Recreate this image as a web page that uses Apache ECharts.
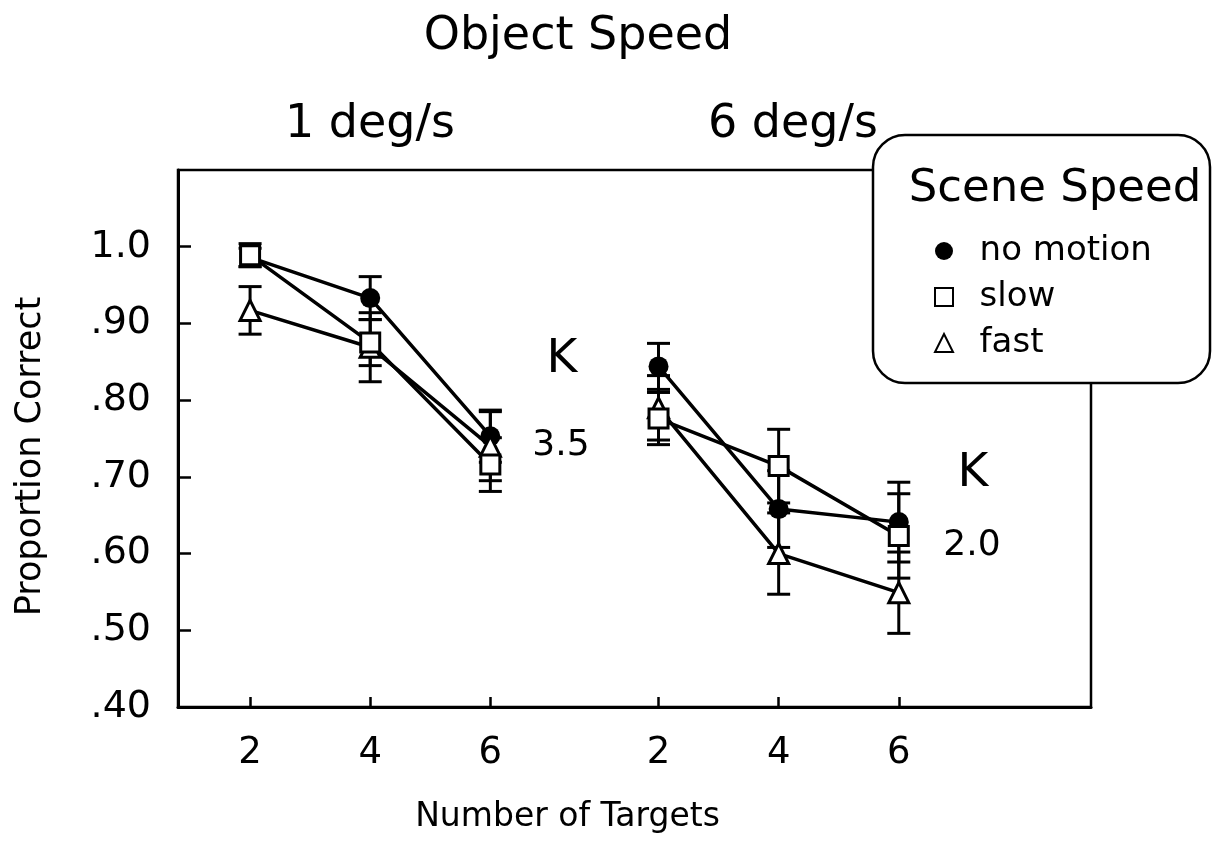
<!DOCTYPE html>
<html>
<head>
<meta charset="utf-8">
<script src="https://cdn.jsdelivr.net/npm/echarts@6/dist/echarts.min.js"></script>
<style>html,body{margin:0;padding:0;background:#fff}#c{width:1219px;height:846px}</style>
</head>
<body>
<div id="c"></div>
<script>
// ---- data ----
const targets = [2, 4, 6];
const groupOffsets = [0, 6.8];          // left: 1 deg/s, right: 6 deg/s
const xTickPos = [2, 4, 6, 8.8, 10.8, 12.8];
const xTickLabels = ['2', '4', '6', '2', '4', '6'];
const yTicks = [0.4, 0.5, 0.6, 0.7, 0.8, 0.9, 1.0];
const yTickLabels = ['.40', '.50', '.60', '.70', '.80', '.90', '1.0'];
const seriesNames = ['no motion', 'slow', 'fast'];

// 1 deg/s
const noMotion1 = [0.986, 0.933, 0.753];
const noMotion1Err = [0.012, 0.028, 0.034];
const slow1 = [0.989, 0.875, 0.716];
const slow1Err = [0.015, 0.030, 0.035];
const fast1 = [0.917, 0.869, 0.740];
const fast1Err = [0.031, 0.045, 0.045];
// 6 deg/s
const noMotion6 = [0.844, 0.658, 0.641];
const noMotion6Err = [0.030, 0.050, 0.052];
const slow6 = [0.776, 0.714, 0.623];
const slow6Err = [0.034, 0.048, 0.055];
const fast6 = [0.790, 0.600, 0.549];
const fast6Err = [0.042, 0.053, 0.053];

const FONT = 'DejaVu Sans';
const chart = echarts.init(document.getElementById('c'));

function pts(vals, g) { return vals.map((v, i) => [targets[i] + groupOffsets[g], v]); }
function errPts(vals, errs, g) {
  return vals.map((v, i) => [targets[i] + groupOffsets[g], v, v - errs[i], v + errs[i]]);
}

const symStyle = {
  'no motion': { symbol: 'circle', symbolSize: 20, itemStyle: { color: '#000', borderColor: '#000', borderWidth: 0 } },
  'slow': { symbol: 'rect', symbolSize: 19, itemStyle: { color: '#fff', borderColor: '#000', borderWidth: 3 } },
  'fast': { symbol: 'triangle', symbolSize: 20, itemStyle: { color: '#fff', borderColor: '#000', borderWidth: 3 } }
};

function lineSeries(name, vals, g, z) {
  return Object.assign({
    type: 'line', name: name, data: pts(vals, g), z: z,
    lineStyle: { color: '#000', width: 3.5 }, animation: false, silent: true
  }, symStyle[name]);
}

function errSeries(vals, errs, g) {
  return {
    type: 'custom', data: errPts(vals, errs, g), encode: { x: 0, y: 1 }, z: 1, silent: true, animation: false,
    renderItem: function (params, api) {
      const x = api.value(0);
      const lo = api.coord([x, api.value(2)]);
      const hi = api.coord([x, api.value(3)]);
      const h = 11.5;
      const st = { stroke: '#000', lineWidth: 3 };
      return {
        type: 'group', children: [
          { type: 'line', shape: { x1: lo[0], y1: lo[1], x2: hi[0], y2: hi[1] }, style: st },
          { type: 'line', shape: { x1: lo[0] - h, y1: lo[1], x2: lo[0] + h, y2: lo[1] }, style: st },
          { type: 'line', shape: { x1: hi[0] - h, y1: hi[1], x2: hi[0] + h, y2: hi[1] }, style: st }
        ]
      };
    }
  };
}

const series = [
  errSeries(noMotion1, noMotion1Err, 0), errSeries(slow1, slow1Err, 0), errSeries(fast1, fast1Err, 0),
  errSeries(noMotion6, noMotion6Err, 1), errSeries(slow6, slow6Err, 1), errSeries(fast6, fast6Err, 1),
  lineSeries('no motion', noMotion1, 0, 2), lineSeries('no motion', noMotion6, 1, 2),
  lineSeries('fast', fast1, 0, 3), lineSeries('fast', fast6, 1, 3),
  lineSeries('slow', slow1, 0, 4), lineSeries('slow', slow6, 1, 4)
];

const option = {
  backgroundColor: '#fff',
  animation: false,
  textStyle: { fontFamily: FONT, color: '#000' },
  grid: { left: 178, right: 128, top: 170, bottom: 139, show: true, borderColor: '#000', borderWidth: 2.5, backgroundColor: 'transparent' },
  xAxis: {
    type: 'value', min: 0.8, max: 16.0,
    splitLine: { show: false },
    axisLine: { show: true, lineStyle: { color: '#000', width: 3 } },
    axisTick: { show: true, inside: true, length: 10, lineStyle: { color: '#000', width: 2.5 }, customValues: xTickPos },
    axisLabel: {
      customValues: xTickPos, margin: 28, fontSize: 37, fontFamily: FONT, color: '#000',
      formatter: function (v) {
        let best = 0;
        xTickPos.forEach((p, i) => { if (Math.abs(p - v) < Math.abs(xTickPos[best] - v)) best = i; });
        return xTickLabels[best];
      }
    },
    name: 'Number of Targets', nameLocation: 'middle', nameGap: 94,
    nameTextStyle: { fontSize: 33, fontFamily: FONT, color: '#000', padding: [0, 134, 0, 0] }
  },
  yAxis: {
    type: 'value', min: 0.4, max: 1.1,
    splitLine: { show: false },
    axisLine: { show: true, lineStyle: { color: '#000', width: 3 } },
    axisTick: { show: true, inside: true, length: 13, lineStyle: { color: '#000', width: 2.5 }, customValues: yTicks },
    axisLabel: {
      customValues: yTicks, margin: 27, fontSize: 38, fontFamily: FONT, color: '#000',
      formatter: function (v) {
        let best = 0;
        yTicks.forEach((p, i) => { if (Math.abs(p - v) < Math.abs(yTicks[best] - v)) best = i; });
        return yTickLabels[best];
      }
    },
    name: 'Proportion Correct', nameLocation: 'middle', nameGap: 130, nameRotate: 90,
    nameTextStyle: { fontSize: 35, fontFamily: FONT, color: '#000', padding: [0, 36, 0, 0] }
  },
  legend: {
    z: 200, orient: 'vertical', left: 929, top: 226, itemGap: 6,
    itemWidth: 18, itemHeight: 18,
    formatter: function (n) { return '  ' + n; },
    textStyle: { fontSize: 34, fontFamily: FONT, color: '#000', lineHeight: 40 },
    data: [
      { name: 'no motion', icon: 'circle', itemStyle: { color: '#000', borderWidth: 0 } },
      { name: 'slow', icon: 'rect', itemStyle: { color: '#fff', borderColor: '#000', borderWidth: 2 } },
      { name: 'fast', icon: 'triangle', itemStyle: { color: '#fff', borderColor: '#000', borderWidth: 2 } }
    ]
  },
  graphic: [
    { type: 'rect', z: 100, shape: { x: 873, y: 135, width: 337, height: 248, r: 32 },
      style: { fill: '#fff', stroke: '#000', lineWidth: 2.5 } },
    { type: 'text', z: 150, x: 1055, y: 189, style: { text: 'Scene Speed', font: '45px "DejaVu Sans"', fill: '#000', align: 'center', verticalAlign: 'middle' } },
    { type: 'text', z: 150, x: 578, y: 37, style: { text: 'Object Speed', font: '46px "DejaVu Sans"', fill: '#000', align: 'center', verticalAlign: 'middle' } },
    { type: 'text', z: 150, x: 370, y: 125, style: { text: '1 deg/s', font: '46px "DejaVu Sans"', fill: '#000', align: 'center', verticalAlign: 'middle' } },
    { type: 'text', z: 150, x: 793, y: 125, style: { text: '6 deg/s', font: '46px "DejaVu Sans"', fill: '#000', align: 'center', verticalAlign: 'middle' } },
    { type: 'text', z: 150, x: 562, y: 360, style: { text: 'K', font: '47px "DejaVu Sans"', fill: '#000', align: 'center', verticalAlign: 'middle' } },
    { type: 'text', z: 150, x: 561, y: 446, style: { text: '3.5', font: '36px "DejaVu Sans"', fill: '#000', align: 'center', verticalAlign: 'middle' } },
    { type: 'text', z: 150, x: 973, y: 474, style: { text: 'K', font: '47px "DejaVu Sans"', fill: '#000', align: 'center', verticalAlign: 'middle' } },
    { type: 'text', z: 150, x: 972, y: 546, style: { text: '2.0', font: '36px "DejaVu Sans"', fill: '#000', align: 'center', verticalAlign: 'middle' } }
  ],
  series: series
};
chart.setOption(option);
</script>
</body>
</html>
